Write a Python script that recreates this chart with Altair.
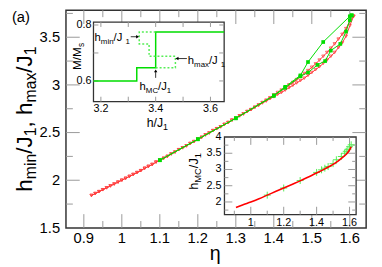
import altair as alt
import pandas as pd

FONT = "Liberation Sans"
RED = "#ff3a3a"
GREEN = "#00dd00"
LGREEN = "#55ee55"
TICK = "#999999"
FRAME = "#333333"

W, H = 305.5, 221.5

# ---------------- main panel data ----------------
eta_red = [0.92, 0.93, 0.94, 0.95, 0.96, 0.97, 0.98, 0.99, 1.00, 1.01, 1.02, 1.03,
           1.04, 1.05, 1.06, 1.07, 1.08, 1.09, 1.10, 1.11, 1.12, 1.13, 1.14, 1.15,
           1.16, 1.17, 1.18, 1.19, 1.20, 1.21, 1.22, 1.23, 1.24, 1.25, 1.26, 1.27,
           1.28, 1.29, 1.30, 1.31, 1.32, 1.33, 1.34, 1.35, 1.36, 1.37, 1.38, 1.39,
           1.40, 1.41, 1.42, 1.43, 1.44, 1.45, 1.46, 1.47, 1.48, 1.49, 1.50, 1.51,
           1.52, 1.53, 1.54, 1.55, 1.56, 1.57, 1.58, 1.59, 1.60, 1.61]
hmin_red = [1.84, 1.86, 1.88, 1.90, 1.92, 1.94, 1.96, 1.98, 2.00, 2.02, 2.04, 2.06,
            2.08, 2.10, 2.125, 2.145, 2.165, 2.19, 2.21, 2.23, 2.25, 2.275, 2.295, 2.32,
            2.34, 2.36, 2.385, 2.405, 2.43, 2.45, 2.475, 2.495, 2.52, 2.54, 2.56, 2.585,
            2.605, 2.63, 2.65, 2.675, 2.695, 2.72, 2.74, 2.765, 2.785, 2.81, 2.83, 2.855,
            2.875, 2.90, 2.92, 2.945, 2.97, 2.995, 3.02, 3.045, 3.07, 3.10, 3.13, 3.16,
            3.19, 3.225, 3.26, 3.30, 3.34, 3.39, 3.44, 3.51, 3.62, 3.72]
hmax_red = [1.84, 1.86, 1.88, 1.90, 1.92, 1.94, 1.96, 1.98, 2.00, 2.02, 2.04, 2.06,
            2.08, 2.10, 2.125, 2.145, 2.165, 2.19, 2.21, 2.23, 2.25, 2.275, 2.295, 2.32,
            2.34, 2.36, 2.385, 2.405, 2.43, 2.45, 2.475, 2.495, 2.52, 2.54, 2.56, 2.585,
            2.605, 2.63, 2.65, 2.675, 2.695, 2.72, 2.74, 2.765, 2.79, 2.815, 2.84, 2.865,
            2.895, 2.92, 2.945, 2.97, 3.00, 3.025, 3.055, 3.085, 3.12, 3.15, 3.185, 3.22,
            3.26, 3.30, 3.34, 3.385, 3.43, 3.48, 3.53, 3.59, 3.67, 3.72]

eta_gmin = [1.10, 1.20, 1.30, 1.40, 1.43, 1.47, 1.49, 1.515, 1.535, 1.55, 1.575, 1.59, 1.60, 1.605]
hmin_green = [2.21, 2.43, 2.65, 2.885, 2.97, 3.09, 3.13, 3.21, 3.25, 3.36, 3.43, 3.56, 3.68, 3.73]
eta_gmax = [1.10, 1.20, 1.30, 1.40, 1.43, 1.47, 1.49, 1.53, 1.60, 1.605]
hmax_green = [2.21, 2.43, 2.65, 2.89, 2.98, 3.10, 3.24, 3.45, 3.72, 3.73]

main_x_labels = [0.9, 1.0, 1.1, 1.2, 1.3, 1.4, 1.5, 1.6]
main_x_text = ["0.9", "1", "1.1", "1.2", "1.3", "1.4", "1.5", "1.6"]
main_x_minor = [0.95, 1.05, 1.15, 1.25, 1.35, 1.45, 1.55]
main_y_labels = [1.5, 2.0, 2.5, 3.0, 3.5]
main_y_text = ["1.5", "2", "2.5", "3", "3.5"]
main_y_minor = [1.75, 2.25, 2.75, 3.25, 3.75]

# ---------------- inset 1 data (M/Ms vs h/J1) ----------------
h_solid = [3.173, 3.331, 3.400, 3.650]
m_solid = [0.600, 0.647, 0.775, 0.775]
h_dotted = [3.400, 3.472, 3.472, 3.376, 3.376, 3.340, 3.340, 3.400]
m_dotted = [0.647, 0.647, 0.688, 0.688, 0.732, 0.732, 0.775, 0.775]
in1_x_labels = [3.2, 3.4, 3.6]
in1_x_text = ["3.2", "3.4", "3.6"]
in1_x_ticks = [3.2, 3.3, 3.4, 3.5, 3.6]
in1_y_labels = [0.6, 0.8]
in1_y_text = ["0.6", "0.8"]
in1_y_ticks = [0.6, 0.7, 0.8]
arr_x0 = [3.309, 3.514, 3.400]
arr_x1 = [3.334, 3.478, 3.400]
arr_y0 = [0.758, 0.680, 0.611]
arr_y1 = [0.758, 0.680, 0.636]
arr_shape = ["triangle-right", "triangle-left", "triangle-up"]

# ---------------- inset 2 data (hMC vs eta) ----------------
eta_fit = [0.91, 0.95, 1.00, 1.05, 1.10, 1.15, 1.20, 1.25, 1.30, 1.35, 1.40, 1.45,
           1.50, 1.53, 1.56, 1.58, 1.60, 1.61]
hmc_fit = [1.83, 1.91, 2.00, 2.10, 2.21, 2.32, 2.43, 2.54, 2.65, 2.77, 2.89, 3.02,
           3.16, 3.26, 3.38, 3.47, 3.60, 3.70]
eta_mc = [1.10, 1.20, 1.30, 1.40, 1.43, 1.45, 1.47, 1.50, 1.52, 1.55, 1.57, 1.58,
          1.59, 1.60, 1.61]
hmc_mc = [2.21, 2.43, 2.66, 2.91, 2.99, 3.04, 3.09, 3.18, 3.30, 3.40, 3.50, 3.56,
          3.62, 3.70, 3.76]
in2_x_labels = [1.0, 1.2, 1.4, 1.6]
in2_x_text = ["1", "1.2", "1.4", "1.6"]
in2_x_minor = [0.9, 1.1, 1.3, 1.5]
in2_y_labels = [2.0, 2.5, 3.0, 3.5, 4.0]
in2_y_text = ["2", "2.5", "3", "3.5", "4"]
in2_y_minor = [1.75, 2.25, 2.75, 3.25, 3.75]

# ---------------- scales ----------------
main_x = alt.Scale(domain=[0.853, 1.643], nice=False, zero=False)
main_y = alt.Scale(domain=[1.5, 3.783], nice=False, zero=False)
IN1 = dict(x0=28, x1=161, y0=93, y1=12)
in1_x = alt.Scale(domain=[3.173, 3.650], range=[IN1["x0"], IN1["x1"]], nice=False, zero=False)
in1_y = alt.Scale(domain=[0.526, 0.8105], range=[IN1["y0"], IN1["y1"]], nice=False, zero=False)
IN2 = dict(x0=161.3, x1=295.3, y0=208, y1=129)
in2_x = alt.Scale(domain=[0.84, 1.64], range=[IN2["x0"], IN2["x1"]], nice=False, zero=False)
in2_y = alt.Scale(domain=[1.61, 4.0], range=[IN2["y0"], IN2["y1"]], nice=False, zero=False)


def vrules(vals, scale, y0, y1):
    return alt.Chart(pd.DataFrame({"v": vals})).mark_rule(color=TICK, strokeWidth=1).encode(
        x=alt.X("v:Q", scale=scale, axis=None), y=alt.value(y0), y2=alt.value(y1))


def hrules(vals, scale, x0, x1):
    return alt.Chart(pd.DataFrame({"v": vals})).mark_rule(color=TICK, strokeWidth=1).encode(
        y=alt.Y("v:Q", scale=scale, axis=None), x=alt.value(x0), x2=alt.value(x1))


def xlabels(vals, texts, scale, ypix, size):
    return alt.Chart(pd.DataFrame({"v": vals, "t": texts})).mark_text(
        align="center", baseline="top", fontSize=size, font=FONT, color="black").encode(
        x=alt.X("v:Q", scale=scale, axis=None), y=alt.value(ypix), text="t:N")


def ylabels(vals, texts, scale, xpix, size):
    return alt.Chart(pd.DataFrame({"v": vals, "t": texts})).mark_text(
        align="right", baseline="middle", fontSize=size, font=FONT, color="black").encode(
        y=alt.Y("v:Q", scale=scale, axis=None), x=alt.value(xpix), text="t:N")


# ---------------- main group ----------------
n = len(eta_red)
red_df = pd.DataFrame({"eta": eta_red + eta_red, "h": hmin_red + hmax_red,
                       "s": ["min"] * n + ["max"] * n})
green_df = pd.DataFrame({"eta": eta_gmin + eta_gmax, "h": hmin_green + hmax_green,
                         "s": ["min"] * len(eta_gmin) + ["max"] * len(eta_gmax)})

LM, lm = 14, 7
main_ticks = [
    vrules(main_x_labels, main_x, H, H - LM), vrules(main_x_minor, main_x, H, H - lm),
    vrules(main_x_labels, main_x, 0, LM), vrules(main_x_minor, main_x, 0, lm),
    hrules(main_y_labels[1:], main_y, 0, LM), hrules(main_y_minor, main_y, 0, lm),
    hrules(main_y_labels[1:], main_y, W, W - LM), hrules(main_y_minor, main_y, W, W - lm),
]
main_labels = [
    xlabels(main_x_labels, main_x_text, main_x, H + 3, 15),
    ylabels(main_y_labels, main_y_text, main_y, -6, 15),
]

red_line = alt.Chart(red_df).mark_line(color=RED, strokeWidth=1).encode(
    x=alt.X("eta:Q", scale=main_x, axis=None), y=alt.Y("h:Q", scale=main_y, axis=None),
    detail="s:N")
red_pts = alt.Chart(red_df).mark_point(shape="triangle-down", filled=False, color=RED,
                                       size=9, strokeWidth=0.9, opacity=0.85).encode(
    x=alt.X("eta:Q", scale=main_x, axis=None), y=alt.Y("h:Q", scale=main_y, axis=None))
green_line = alt.Chart(green_df).mark_line(color=GREEN, strokeWidth=1).encode(
    x=alt.X("eta:Q", scale=main_x, axis=None), y=alt.Y("h:Q", scale=main_y, axis=None),
    detail="s:N")
green_pts = alt.Chart(green_df).mark_square(color=GREEN, size=14, opacity=1).encode(
    x=alt.X("eta:Q", scale=main_x, axis=None), y=alt.Y("h:Q", scale=main_y, axis=None))

main = alt.layer(*main_ticks, *main_labels, red_line, red_pts, green_line, green_pts)

# ---------------- inset 1 ----------------
frame1 = alt.Chart(pd.DataFrame({"a": [3.173], "b": [3.650], "c": [0.526], "d": [0.8105]})).mark_rect(
    fill="white", stroke=FRAME, strokeWidth=1.3).encode(
    x=alt.X("a:Q", scale=in1_x, axis=None), x2="b:Q",
    y=alt.Y("c:Q", scale=in1_y, axis=None), y2="d:Q")
t1 = 5
in1_ticks = [
    vrules(in1_x_ticks, in1_x, IN1["y0"], IN1["y0"] - t1), vrules(in1_x_ticks, in1_x, IN1["y1"], IN1["y1"] + t1),
    hrules(in1_y_ticks, in1_y, IN1["x0"], IN1["x0"] + t1), hrules(in1_y_ticks, in1_y, IN1["x1"], IN1["x1"] - t1),
]
in1_labels = [
    xlabels(in1_x_labels, in1_x_text, in1_x, IN1["y0"] + 2, 11),
    ylabels(in1_y_labels, in1_y_text, in1_y, IN1["x0"] - 2, 11),
]
solid = alt.Chart(pd.DataFrame({"h": h_solid, "m": m_solid})).mark_line(
    interpolate="step-after", color=GREEN, strokeWidth=1.5).encode(
    x=alt.X("h:Q", scale=in1_x, axis=None), y=alt.Y("m:Q", scale=in1_y, axis=None))
dotted = alt.Chart(pd.DataFrame({"h": h_dotted, "m": m_dotted, "o": list(range(len(h_dotted)))})).mark_line(
    color=LGREEN, strokeWidth=1.5, strokeDash=[2, 2]).encode(
    x=alt.X("h:Q", scale=in1_x, axis=None), y=alt.Y("m:Q", scale=in1_y, axis=None), order="o:Q")
arr_df = pd.DataFrame({"x0": arr_x0, "x1": arr_x1, "y0": arr_y0, "y1": arr_y1, "sh": arr_shape})
arr_lines = alt.Chart(arr_df).mark_rule(color="black", strokeWidth=0.8).encode(
    x=alt.X("x0:Q", scale=in1_x, axis=None), x2="x1:Q",
    y=alt.Y("y0:Q", scale=in1_y, axis=None), y2="y1:Q")
arr_heads = alt.Chart(arr_df).mark_point(filled=True, color="black", size=12, opacity=1).encode(
    x=alt.X("x1:Q", scale=in1_x, axis=None), y=alt.Y("y1:Q", scale=in1_y, axis=None),
    shape=alt.Shape("sh:N", scale=None))
inset1 = alt.layer(frame1, *in1_ticks, *in1_labels, solid, dotted, arr_lines, arr_heads)

# ---------------- inset 2 ----------------
frame2 = alt.Chart(pd.DataFrame({"a": [0.84], "b": [1.64], "c": [1.61], "d": [4.0]})).mark_rect(
    fill="white", stroke=FRAME, strokeWidth=1.3).encode(
    x=alt.X("a:Q", scale=in2_x, axis=None), x2="b:Q",
    y=alt.Y("c:Q", scale=in2_y, axis=None), y2="d:Q")
in2_ticks = [
    vrules(in2_x_labels, in2_x, IN2["y0"], IN2["y0"] - 8),
    vrules(in2_x_minor, in2_x, IN2["y0"], IN2["y0"] - 4),
    vrules(in2_x_labels, in2_x, IN2["y1"], IN2["y1"] + 8),
    vrules(in2_x_minor, in2_x, IN2["y1"], IN2["y1"] + 4),
    hrules(in2_y_labels[:-1], in2_y, IN2["x0"], IN2["x0"] + 8), hrules(in2_y_minor, in2_y, IN2["x0"], IN2["x0"] + 4),
    hrules(in2_y_labels[:-1], in2_y, IN2["x1"], IN2["x1"] - 8), hrules(in2_y_minor, in2_y, IN2["x1"], IN2["x1"] - 4),
]
in2_labels = [
    xlabels(in2_x_labels, in2_x_text, in2_x, IN2["y0"] + 3, 11),
    ylabels(in2_y_labels, in2_y_text, in2_y, IN2["x0"] - 3, 11),
]
fit_line = alt.Chart(pd.DataFrame({"e": eta_fit, "h": hmc_fit})).mark_line(
    color="#ff0000", strokeWidth=1.6, interpolate="monotone").encode(
    x=alt.X("e:Q", scale=in2_x, axis=None), y=alt.Y("h:Q", scale=in2_y, axis=None))
mc_pts = alt.Chart(pd.DataFrame({"e": eta_mc, "h": hmc_mc})).mark_point(
    shape="M-1,0L1,0M0,-1L0,1", filled=False, color=LGREEN, size=50, strokeWidth=1, opacity=1).encode(
    x=alt.X("e:Q", scale=in2_x, axis=None), y=alt.Y("h:Q", scale=in2_y, axis=None))
inset2 = alt.layer(frame2, *in2_ticks, *in2_labels, mc_pts, fit_line)

# ---------------- rich text (titles with subscripts) ----------------
ARIAL = {" ": 278, "(": 333, ")": 333, ",": 278, ".": 278, "/": 278, "a": 556, "c": 500,
         "h": 556, "i": 222, "m": 833, "n": 556, "s": 500, "x": 500, "C": 722, "J": 500, "M": 833}
ONE = pd.DataFrame({"o": [0]})


def tw(s, fs):
    return sum(ARIAL.get(c, 556) for c in s) * fs / 1000.0


def rich(segs, x, y, fs, ss, sub_dy, angle=0, align="left"):
    total = sum(tw(t, ss if s else fs) for t, s in segs)
    pos = {"left": 0, "center": -total / 2, "right": -total}[align]
    out = []
    for t, s in segs:
        size = ss if s else fs
        props = dict(text=t, align="left", baseline="alphabetic", dx=pos,
                     dy=(sub_dy if s else 0), fontSize=size, font=FONT, color="black")
        if angle:
            props["angle"] = angle
        out.append(alt.Chart(ONE).mark_text(**props).encode(x=alt.value(x), y=alt.value(y)))
        pos += tw(t, size)
    return out


texts = []
texts += rich([("h", 0), ("min", 1), ("/J", 0), ("1", 1), (", h", 0), ("max", 1), ("/J", 0), ("1", 1)],
              -35, 110.75, 23, 16, 5, angle=270, align="center")
texts += rich([("(a)", 0)], -55, 12, 15, 10, 0)
texts += [alt.Chart(ONE).mark_text(text="η", align="center", baseline="alphabetic", fontSize=20,
                                   font=FONT, color="black").encode(x=alt.value(152), y=alt.value(254))]
texts += rich([("M/M", 0), ("s", 1)], 15, 47, 12, 8.5, 3, angle=270, align="center")
texts += rich([("h/J", 0), ("1", 1)], 93, 118.5, 12.5, 9, 3, align="center")
texts += rich([("h", 0), ("min", 1), (" /J", 0), ("1", 1)], 65, 31, 11.5, 8, 3, align="right")
texts += rich([("h", 0), ("max", 1), (" /J", 0), ("1", 1)], 124, 54.5, 11.5, 8, 3, align="left")
texts += rich([("h", 0), ("MC", 1), ("/J", 0), ("1", 1)], 91, 81, 11.5, 8, 3, align="center")
texts += rich([("h", 0), ("MC", 1), ("/J", 0), ("1", 1)], 134.5, 164, 13, 9.5, 3, angle=270, align="center")

chart = alt.layer(main, inset1, inset2, *texts).resolve_scale(
    x="independent", y="independent").properties(
    width=W, height=H,
    autosize=alt.AutoSizeParams(type="none"),
    padding={"left": 59, "top": 0, "right": 8, "bottom": 38},
).configure_view(stroke=FRAME, strokeWidth=1.5).configure_text(font=FONT)

chart.save("out.html", embed_options={"renderer": "svg", "actions": False})
